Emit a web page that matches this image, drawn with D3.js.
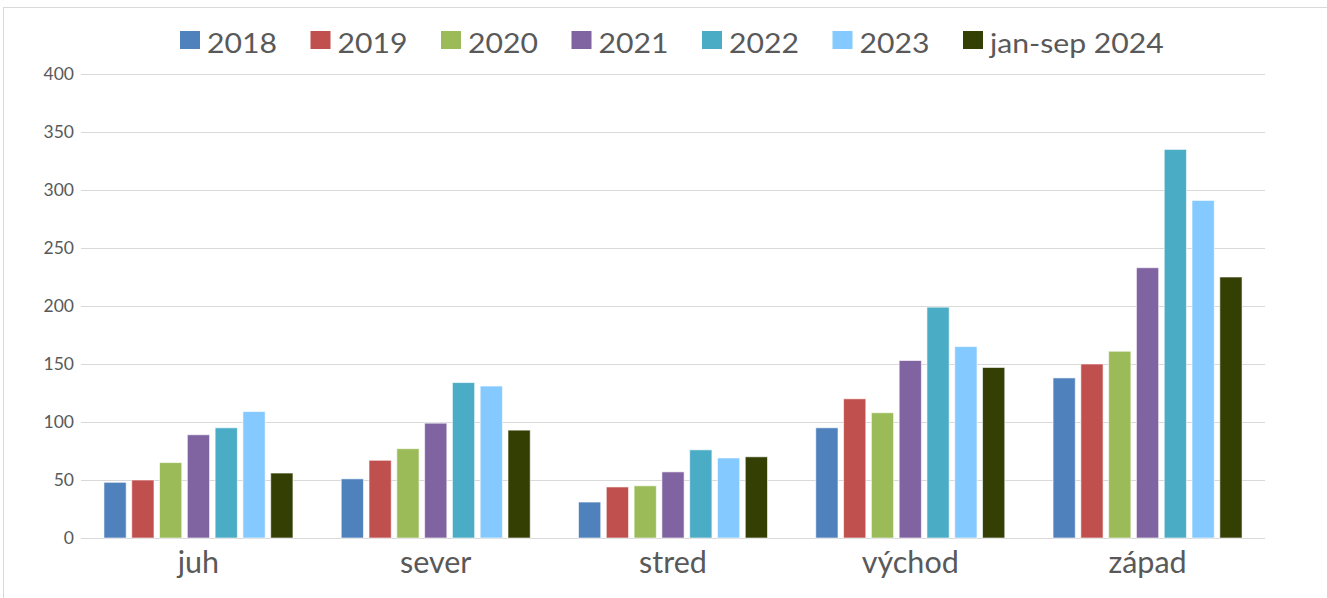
<!DOCTYPE html>
<html>
<head>
<meta charset="utf-8">
<script src="https://cdn.jsdelivr.net/npm/d3@7"></script>
<style>
    body { margin: 0; background: #fff; }
    text { font-family: Lato, "Open Sans", sans-serif; }
</style>
</head>
<body>
<div id="chart-holder"></div>
<script>
// chart data
var regions = ['juh', 'sever', 'stred', 'východ', 'západ'];
var series = ['2018', '2019', '2020', '2021', '2022', '2023', 'jan-sep 2024'];
var colors = ['#4f81bd', '#c0504d', '#9bbb59', '#8064a2', '#4bacc6', '#84c9ff', '#333f03'];

var values2018 = [48, 51, 31, 95, 138];
var values2019 = [50, 67, 44, 120, 150];
var values2020 = [65, 77, 45, 108, 161];
var values2021 = [89, 99, 57, 153, 233];
var values2022 = [95, 134, 76, 199, 335];
var values2023 = [109, 131, 69, 165, 291];
var values2024 = [56, 93, 70, 147, 225];
var allValues = [values2018, values2019, values2020, values2021, values2022, values2023, values2024];

var yTicks = [0, 50, 100, 150, 200, 250, 300, 350, 400];

function createChart(elementId) {

    var width = 1327;
    var height = 598;

    // plot area bounds
    var plot = {
        left: 81,
        right: 1265,
        top: 74,
        bottom: 538
    };

    var svg = d3
        .select(elementId)
        .append('svg')
        .attr('width', width)
        .attr('height', height);

    // outer frame
    svg
        .append('rect')
        .attr('x', 3.5)
        .attr('y', 7.5)
        .attr('width', width + 10)
        .attr('height', height + 10)
        .style('fill', 'none')
        .style('stroke', '#d9d9d9')
        .style('stroke-width', 1);

    // scales
    var x0 = d3
        .scaleBand()
        .domain(regions)
        .range([plot.left, plot.right])
        .paddingInner(0.18)
        .paddingOuter(0.085);

    var x1 = d3
        .scaleBand()
        .domain(series)
        .range([0, x0.bandwidth()])
        .paddingInner(0.2)
        .paddingOuter(0.1);

    var y = d3
        .scaleLinear()
        .domain([0, 400])
        .range([plot.bottom, plot.top]);

    var color = d3.scaleOrdinal().domain(series).range(colors);

    // gridlines
    svg
        .append('g')
        .attr('class', 'grid')
        .selectAll('line')
        .data(yTicks)
        .enter()
        .append('line')
        .attr('x1', plot.left)
        .attr('x2', plot.right)
        .attr('y1', function(d) { return Math.round(y(d)) + 0.5; })
        .attr('y2', function(d) { return Math.round(y(d)) + 0.5; })
        .style('stroke', '#d9d9d9')
        .style('stroke-width', 1);

    // y axis labels
    var yAxis = d3
        .axisLeft(y)
        .tickValues(yTicks)
        .tickSize(0)
        .tickPadding(8);

    var yAxisGroup = svg
        .append('g')
        .attr('transform', 'translate(' + (plot.left + 1) + ',0)')
        .call(yAxis);
    yAxisGroup.select('.domain').remove();
    yAxisGroup
        .selectAll('text')
        .style('font-family', 'Lato, sans-serif')
        .style('font-size', '17.5px')
        .style('fill', '#595959');

    // bars
    var rows = [];
    regions.forEach(function(r, i) {
        series.forEach(function(s, j) {
            rows.push({ region: r, series: s, value: allValues[j][i] });
        });
    });

    svg
        .append('g')
        .attr('class', 'bars')
        .selectAll('rect')
        .data(rows)
        .enter()
        .append('rect')
        .attr('x', function(d) { return x0(d.region) + x1(d.series); })
        .attr('y', function(d) { return y(d.value); })
        .attr('width', x1.bandwidth())
        .attr('height', function(d) { return y(0) - y(d.value); })
        .style('fill', function(d) { return color(d.series); })
        .style('stroke', 'rgba(255,255,255,0.6)')
        .style('stroke-width', 1);

    // x axis labels
    var xAxis = d3
        .axisBottom(x0)
        .tickSize(0);

    var xAxisGroup = svg
        .append('g')
        .attr('transform', 'translate(0,' + plot.bottom + ')')
        .call(xAxis);
    xAxisGroup.select('.domain').remove();
    xAxisGroup
        .selectAll('text')
        .attr('y', 35)
        .attr('dy', 0)
        .style('font-family', 'Lato, sans-serif')
        .style('font-size', '30.5px')
        .style('fill', '#595959');

    // legend
    var legendX = 180;
    var legendStep = 130.5;
    var legend = svg
        .append('g')
        .attr('class', 'legend')
        .selectAll('g')
        .data(series)
        .enter()
        .append('g')
        .attr('transform', function(d, i) {
            return 'translate(' + (legendX + i * legendStep) + ',31)';
        });

    legend
        .append('rect')
        .attr('width', 20)
        .attr('height', 18)
        .style('fill', function(d) { return color(d); });

    legend
        .append('text')
        .attr('transform', 'translate(27,22) scale(1.16,1)')
        .text(function(d) { return d; })
        .style('font-size', '26px')
        .style('fill', '#595959');
}

createChart('#chart-holder');
</script>
</body>
</html>
